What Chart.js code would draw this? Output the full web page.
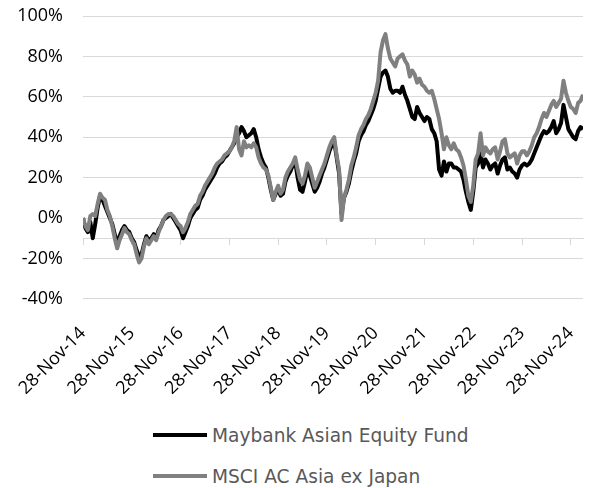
<!DOCTYPE html>
<html>
<head>
<meta charset="utf-8">
<script src="https://cdn.jsdelivr.net/npm/chart.js@4.4.1/dist/chart.umd.min.js"></script>
<style>
  body { margin: 0; background: #fff; }
  #wrap { position: relative; width: 589px; height: 488px; }
  #box { position: absolute; left: 0; top: 0; width: 589px; height: 415px; }
  #legend { position: absolute; left: 153px; top: 420px; font-family: "DejaVu Sans", sans-serif; font-size: 18.6px; color: #595959; }
  #legend .row { display: flex; align-items: center; height: 30px; margin-bottom: 11px; }
  #legend .swatch { width: 54px; height: 4px; margin-right: 5px; }
</style>
</head>
<body>
<div id="wrap">
  <div id="box"><canvas id="perfChart"></canvas></div>
  <div id="legend"></div>
</div>
<script>
const tickLabels = ['28-Nov-14', '28-Nov-15', '28-Nov-16', '28-Nov-17', '28-Nov-18', '28-Nov-19',
  '28-Nov-20', '28-Nov-21', '28-Nov-22', '28-Nov-23', '28-Nov-24'];

const seriesNames = ['Maybank Asian Equity Fund', 'MSCI AC Asia ex Japan'];

// cumulative return in %, one reading every ~2.6 weeks from 28-Nov-14
const fundValues = [
  0, -5, -7, -2, -10, -3, 5, 11, 9, 6,
  3, 0, -3, -8, -13, -9, -6, -4, -6, -7,
  -10, -12, -16, -19, -18, -13, -9, -11, -10, -8,
  -10, -6, -4, -1, 0, 1, 2, 0, -2, -4,
  -6, -10, -7, -4, 0, 2, 4, 5, 9, 11,
  14, 16, 18, 20, 22, 25, 27, 28, 30, 31,
  33, 35, 37, 40, 42, 45, 43, 40, 41, 42,
  44, 40, 34, 30, 27, 25, 20, 14, 9, 12,
  14, 11, 12, 18, 21, 23, 26, 28, 20, 14,
  13, 18, 24, 21, 17, 13, 15, 18, 22, 25,
  29, 33, 36, 38, 30, 22, 2, 10, 13, 17,
  23, 28, 32, 38, 41, 43, 46, 48, 51, 54,
  58, 64, 70, 72, 73, 70, 64, 62, 63, 63,
  62, 65, 61, 58, 54, 50, 49, 55, 52, 50,
  48, 50, 49, 44, 42, 38, 24, 21, 28, 23,
  27, 27, 25, 25, 24, 23, 19, 13, 8, 4,
  13, 25, 27, 32, 25, 29, 27, 24, 26, 27,
  22, 26, 29, 30, 24, 25, 23, 22, 20, 24,
  26, 27, 26, 27, 29, 32, 35, 38, 41, 43,
  42, 43, 45, 48, 42, 44, 47, 56, 50, 44,
  42, 40, 39, 43, 45, 44
];

const msciValues = [
  0, -4, -6, 1, 2, 1, 7, 12, 10, 9,
  4, 1, -4, -10, -15, -11, -8, -5, -7, -8,
  -11, -13, -18, -22, -20, -14, -10, -13, -11, -9,
  -11, -7, -4, -1, 1, 2, 2, 1, -1, -3,
  -4, -7, -5, -2, 2, 4, 6, 7, 11, 13,
  16, 18, 20, 22, 25, 27, 28, 29, 31, 32,
  33, 35, 38, 45, 34, 31, 38, 35, 36, 35,
  37, 35, 30, 27, 25, 24, 21, 15, 9, 13,
  16, 12, 14, 20, 23, 25, 27, 30, 24, 19,
  17, 21, 27, 25, 20, 15, 18, 21, 24, 27,
  31, 35, 38, 40, 31, 24, -1, 10, 14, 19,
  26, 30, 35, 41, 44, 46, 49, 51, 54, 58,
  62, 68, 82, 88, 91, 84, 79, 77, 75, 79,
  80, 81, 78, 76, 70, 73, 71, 67, 69, 66,
  65, 63, 62, 63, 59, 54, 49, 42, 34, 40,
  36, 34, 37, 34, 33, 30, 26, 19, 11, 8,
  16, 29, 32, 42, 31, 35, 33, 32, 34, 35,
  29, 33, 38, 39, 32, 30, 31, 32, 27, 31,
  33, 33, 31, 33, 36, 40, 42, 45, 49, 52,
  50, 53, 56, 58, 55, 57, 59, 68, 62, 58,
  55, 54, 52, 57, 58, 61
];

const seriesColors = ['#000000', '#808080'];
const gridColor = '#d9d9d9';

const toPoints = function (values) {
  return values.map((v, i) => ({ x: i / 20, y: v }));
};

const data = {
  datasets: [{
    label: seriesNames[0],
    data: toPoints(fundValues),
    borderColor: seriesColors[0],
    backgroundColor: seriesColors[0],
    order: 1
  }, {
    label: seriesNames[1],
    data: toPoints(msciValues),
    borderColor: seriesColors[1],
    backgroundColor: seriesColors[1],
    order: 0
  }]
};

const xRange = { min: 0, max: (fundValues.length - 1) / 20 };

const config = {
  type: 'line',
  data: data,
  options: {
    responsive: true,
    maintainAspectRatio: false,
    animation: false,
    layout: { padding: { left: 18, right: 6, top: 16, bottom: 0 } },
    elements: {
      point: { radius: 0 },
      line: { borderWidth: 4, tension: 0, borderJoinStyle: 'round' }
    },
    plugins: {
      legend: { display: false },
      tooltip: { enabled: false }
    },
    scales: {
      x: {
        type: 'linear',
        position: 'bottom',
        min: xRange.min,
        max: xRange.max,
        grid: { display: false },
        border: { display: false },
        // rotated labels may hang past the plot edges, like in Excel
        afterFit: function (scale) {
          scale.paddingLeft = 0;
          scale.paddingRight = 0;
        },
        ticks: {
          stepSize: 1,
          includeBounds: false,
          autoSkip: false,
          minRotation: 45,
          maxRotation: 45,
          padding: 16,
          color: '#000',
          font: { family: 'Open Sans', size: 18 },
          callback: function (value) { return tickLabels[value]; }
        }
      },
      xLine: {
        type: 'linear',
        position: { y: -10 },
        min: xRange.min,
        max: xRange.max,
        grid: { drawOnChartArea: false, drawTicks: true, tickLength: 6, color: gridColor },
        border: { display: true, color: gridColor, width: 1 },
        ticks: { display: false, stepSize: 1, includeBounds: false }
      },
      y: {
        min: -40,
        max: 100,
        grid: { color: gridColor, lineWidth: 1, drawTicks: false },
        border: { display: false },
        afterFit: function (scale) {
          scale.width = 65;
          scale.paddingTop = 0;
          scale.paddingBottom = 0;
        },
        ticks: {
          stepSize: 20,
          padding: 20,
          color: '#000',
          font: { family: 'Open Sans', size: 18 },
          callback: function (value) { return value + '%'; }
        }
      }
    }
  }
};

const perfChart = new Chart(document.getElementById('perfChart'), config);

// legend stacked in two rows, left aligned, as in the source
const legendBox = document.getElementById('legend');
perfChart.data.datasets.forEach(ds => {
  const row = document.createElement('div');
  row.className = 'row';
  row.innerHTML = `<span class="swatch" style="background:${ds.borderColor}"></span><span>${ds.label}</span>`;
  legendBox.appendChild(row);
});
</script>
</body>
</html>
